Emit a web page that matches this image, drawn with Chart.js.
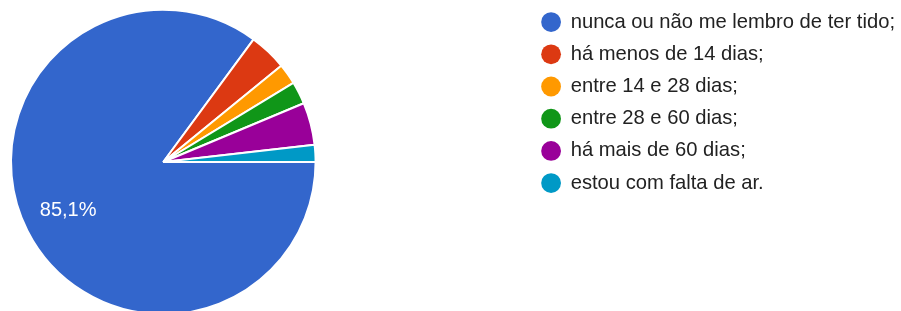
<!DOCTYPE html>
<html>
<head>
<meta charset="utf-8">
<script src="https://cdn.jsdelivr.net/npm/chart.js@4"></script>
<style>
  html, body { margin: 0; padding: 0; background: #fff; overflow: hidden; }
  #wrap { position: relative; width: 910px; height: 324px; }
</style>
</head>
<body>
<div id="wrap"><canvas id="chart"></canvas></div>
<script>
const labels = [
    "nunca ou não me lembro de ter tido;",
    "há menos de 14 dias;",
    "entre 14 e 28 dias;",
    "entre 28 e 60 dias;",
    "há mais de 60 dias;",
    "estou com falta de ar."
];
const values = [85.1, 4.0, 2.2, 2.4, 4.5, 1.8];
const colors = ["#3366cc", "#dc3912", "#ff9900", "#109618", "#990099", "#0099c6"];

// empty box between the pie and the legend so the pie stays on the left
const spacer = {
    id: "spacer",
    beforeInit(chart) {
        const box = {
            position: "right",
            weight: 500,
            fullSize: false,
            options: { display: false },
            width: 0, height: 0, left: 0, top: 0, right: 0, bottom: 0,
            isHorizontal() { return false; },
            update(maxWidth, maxHeight) { this.width = 213; this.height = maxHeight; },
            draw() {}
        };
        Chart.layouts.addBox(chart, box);
    }
};

// percentage written inside the big slices
const sliceLabels = {
    id: "sliceLabels",
    afterDatasetsDraw(chart) {
        const ctx = chart.ctx;
        const meta = chart.getDatasetMeta(0);
        const total = values.reduce((a, b) => a + b, 0);
        meta.data.forEach(function (arc, i) {
            const pct = values[i] / total * 100;
            if (pct < 5) return;
            const p = arc.getProps(["x", "y", "startAngle", "endAngle", "outerRadius"], true);
            const mid = (p.startAngle + p.endAngle) / 2;
            const r = p.outerRadius * 0.70;
            ctx.save();
            ctx.fillStyle = "#ffffff";
            ctx.font = "20px Arial, 'Liberation Sans', sans-serif";
            ctx.textAlign = "center";
            ctx.textBaseline = "middle";
            ctx.fillText(pct.toFixed(1).replace(".", ",") + "%", p.x + Math.cos(mid) * r, p.y + Math.sin(mid) * r);
            ctx.restore();
        });
    }
};

const defaultLabels = Chart.overrides.doughnut.plugins.legend.labels.generateLabels;

new Chart(document.getElementById("chart").getContext("2d"), {
    type: "pie",
    data: {
        labels: labels,
        datasets: [{
            data: values,
            backgroundColor: colors,
            borderColor: "#ffffff",
            borderWidth: 2
        }]
    },
    options: {
        responsive: true,
        maintainAspectRatio: false,
        animation: false,
        rotation: 90,
        layout: { padding: { left: 10, right: 5, top: 0, bottom: 0 } },
        plugins: {
            tooltip: { enabled: false },
            legend: {
                position: "right",
                align: "start",
                labels: {
                    usePointStyle: true,
                    pointStyle: "circle",
                    boxWidth: 19,
                    boxHeight: 14,
                    padding: 12,
                    color: "#222222",
                    font: { family: "Arial, 'Liberation Sans', sans-serif", size: 20.2 },
                    generateLabels: function (chart) {
                        return defaultLabels(chart).map(function (item) {
                            item.lineWidth = 0;
                            return item;
                        });
                    }
                }
            }
        }
    },
    plugins: [spacer, sliceLabels]
});
</script>
</body>
</html>
